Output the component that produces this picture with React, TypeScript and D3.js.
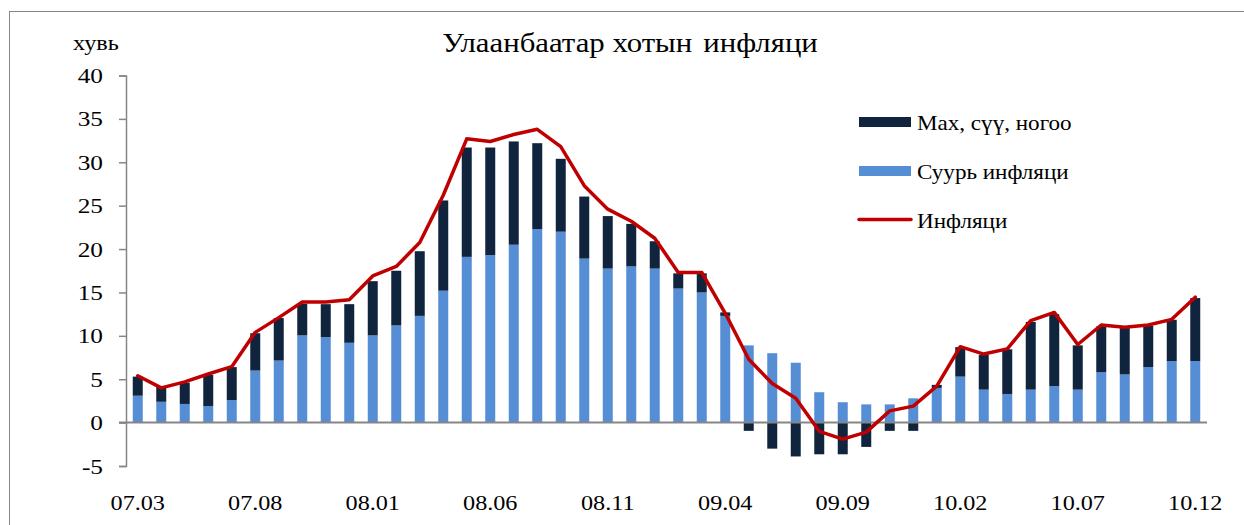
import React, { useEffect, useRef } from 'react'
import * as d3 from 'd3'

// months 2007.03 - 2010.12
const months = [
    '07.03', '07.04', '07.05', '07.06', '07.07', '07.08', '07.09', '07.10', '07.11', '07.12',
    '08.01', '08.02', '08.03', '08.04', '08.05', '08.06', '08.07', '08.08', '08.09', '08.10',
    '08.11', '08.12', '09.01', '09.02', '09.03', '09.04', '09.05', '09.06', '09.07', '09.08',
    '09.09', '09.10', '09.11', '09.12', '10.01', '10.02', '10.03', '10.04', '10.05', '10.06',
    '10.07', '10.08', '10.09', '10.10', '10.11', '10.12',
]

const tickLabels = ['07.03', '07.08', '08.01', '08.06', '08.11', '09.04', '09.09', '10.02', '10.07', '10.12']

// Суурь инфляци
const coreValues = [
    3.1, 2.4, 2.15, 1.9, 2.6, 6.0, 7.15, 10.05, 9.85, 9.2,
    10.05, 11.2, 12.3, 15.2, 19.1, 19.3, 20.5, 22.3, 22.0, 18.9,
    17.75, 18.0, 17.75, 15.45, 15.0, 12.3, 8.9, 8.0, 6.9, 3.5,
    2.35, 2.1, 2.1, 2.8, 4.0, 5.3, 3.8, 3.3, 3.8, 4.2,
    3.8, 5.8, 5.55, 6.4, 7.1, 7.1,
]

// Мах, сүү, ногоо
const foodValues = [
    2.2, 1.7, 2.45, 3.6, 3.8, 4.3, 4.9, 3.65, 3.8, 4.45,
    6.25, 6.3, 7.45, 10.4, 12.6, 12.4, 11.9, 9.9, 8.4, 7.15,
    6.05, 4.9, 3.15, 1.75, 2.2, 0.4, -0.95, -3.0, -3.9, -3.65,
    -3.65, -2.8, -0.95, -0.95, 0.35, 3.4, 4.0, 5.15, 7.8, 8.3,
    5.1, 5.27, 5.35, 4.75, 4.75, 7.25,
]

// Инфляци
const inflationValues = [
    5.4, 4.0, 4.7, 5.6, 6.45, 10.4, 12.1, 13.9, 13.9, 14.15,
    16.9, 18.0, 20.75, 26.2, 32.7, 32.4, 33.2, 33.8, 31.8, 27.3,
    24.6, 23.2, 21.25, 17.3, 17.3, 12.6, 7.3, 4.5, 2.8, -1.0,
    -1.9, -1.1, 1.35, 1.9, 4.2, 8.75, 7.9, 8.5, 11.75, 12.7,
    9.0, 11.25, 11.0, 11.25, 11.9, 14.45,
]

const yTicks = [-5, 0, 5, 10, 15, 20, 25, 30, 35, 40]

const DARK = '#10243e'
const BLUE = '#558ed5'
const RED = '#c00000'
const AXIS = '#868686'
const FONT = "'Liberation Serif', 'DejaVu Serif', serif"

// text that is slightly stretched sideways, like the source picture
function addText(parent, str, x, y, size, anchor = 'start', sx = 1.1) {
    return parent.append('text')
        .attr('transform', `translate(${x},${y}) scale(${sx},1)`)
        .attr('text-anchor', anchor)
        .style('font-family', FONT)
        .style('font-size', size + 'px')
        .attr('fill', '#000')
        .text(str)
}

function App() {
    const ref = useRef(null)

    useEffect(() => {
        const svg = d3.select(ref.current)
        svg.selectAll('*').remove()

        const x = d3.scaleBand()
            .domain(months)
            .range([126, 1207])
            .paddingInner(0.575)
            .paddingOuter(0.2875)
        const y = d3.scaleLinear().domain([-5, 40]).range([466, 75.5])
        const cx = (m) => x(m) + x.bandwidth() / 2

        // frame
        svg.append('rect')
            .attr('x', 9.5).attr('y', 11.5)
            .attr('width', 1300).attr('height', 600)
            .attr('fill', '#fff')
            .attr('stroke', AXIS).attr('stroke-width', 1)

        const data = months.map((m, i) => ({
            m,
            core: coreValues[i],
            food: foodValues[i],
            infl: inflationValues[i],
        }))

        // core bars
        svg.append('g').selectAll('rect')
            .data(data)
            .enter()
            .append('rect')
            .attr('x', d => x(d.m))
            .attr('width', x.bandwidth())
            .attr('y', d => y(d.core))
            .attr('height', d => y(0) - y(d.core))
            .attr('fill', BLUE)

        // food bars stacked on top (negatives go below zero)
        svg.append('g').selectAll('rect')
            .data(data)
            .enter()
            .append('rect')
            .attr('x', d => x(d.m))
            .attr('width', x.bandwidth())
            .attr('y', d => d.food >= 0 ? y(d.core + d.food) : y(0))
            .attr('height', d => d.food >= 0 ? y(d.core) - y(d.core + d.food) : y(d.food) - y(0))
            .attr('fill', DARK)

        // y axis (lines from d3, labels drawn below)
        const yAxis = svg.append('g')
            .attr('transform', 'translate(126,0)')
            .call(d3.axisLeft(y).tickValues(yTicks).tickFormat(() => '')
                .tickSize(7).tickSizeOuter(7))
        yAxis.selectAll('path, line').attr('stroke', AXIS).attr('stroke-width', 1.5)

        const yLabels = svg.append('g')
        yTicks.forEach(t => addText(yLabels, String(t), 103, y(t) + 7.5, 22, 'end', 1.15))

        // zero line
        svg.append('line')
            .attr('x1', 119).attr('x2', 1207)
            .attr('y1', y(0)).attr('y2', y(0))
            .attr('stroke', AXIS).attr('stroke-width', 2)

        // x labels
        const xLabels = svg.append('g')
        tickLabels.forEach(t => addText(xLabels, t, cx(t), 510, 22, 'middle', 1.1))

        // inflation line
        const line = d3.line()
            .x(d => cx(d.m))
            .y(d => y(d.infl))
        svg.append('path')
            .datum(data)
            .attr('d', line)
            .attr('fill', 'none')
            .attr('stroke', RED)
            .attr('stroke-width', 3.5)
            .attr('stroke-linejoin', 'round')
            .attr('stroke-linecap', 'round')

        // title + unit
        const title = addText(svg, '', 630, 52, 28, 'middle', 1.1)
        title.append('tspan').text('Улаанбаатар хотын')
        title.append('tspan').attr('dx', 3).text(' инфляци')
        addText(svg, 'хувь', 73, 50, 22, 'start', 1.1)

        // legend
        const legend = svg.append('g')
        legend.append('rect').attr('x', 859).attr('y', 117).attr('width', 52).attr('height', 10).attr('fill', DARK)
        legend.append('rect').attr('x', 859).attr('y', 166).attr('width', 52).attr('height', 10).attr('fill', BLUE)
        legend.append('line').attr('x1', 859).attr('x2', 911).attr('y1', 219.5).attr('y2', 219.5)
            .attr('stroke', RED).attr('stroke-width', 3.5).attr('stroke-linecap', 'round')
        const names = ['Мах, сүү, ногоо', 'Суурь инфляци', 'Инфляци']
        names.forEach((n, i) => addText(legend, n, 917, 130 + i * 49, 21, 'start', 1.1))
    }, [])

    return (
        <svg
            ref={ref}
            width={1244}
            height={525}
            style={{ position: 'absolute', left: 0, top: 0, display: 'block', background: '#fff' }}
        />
    )
}

export default App
